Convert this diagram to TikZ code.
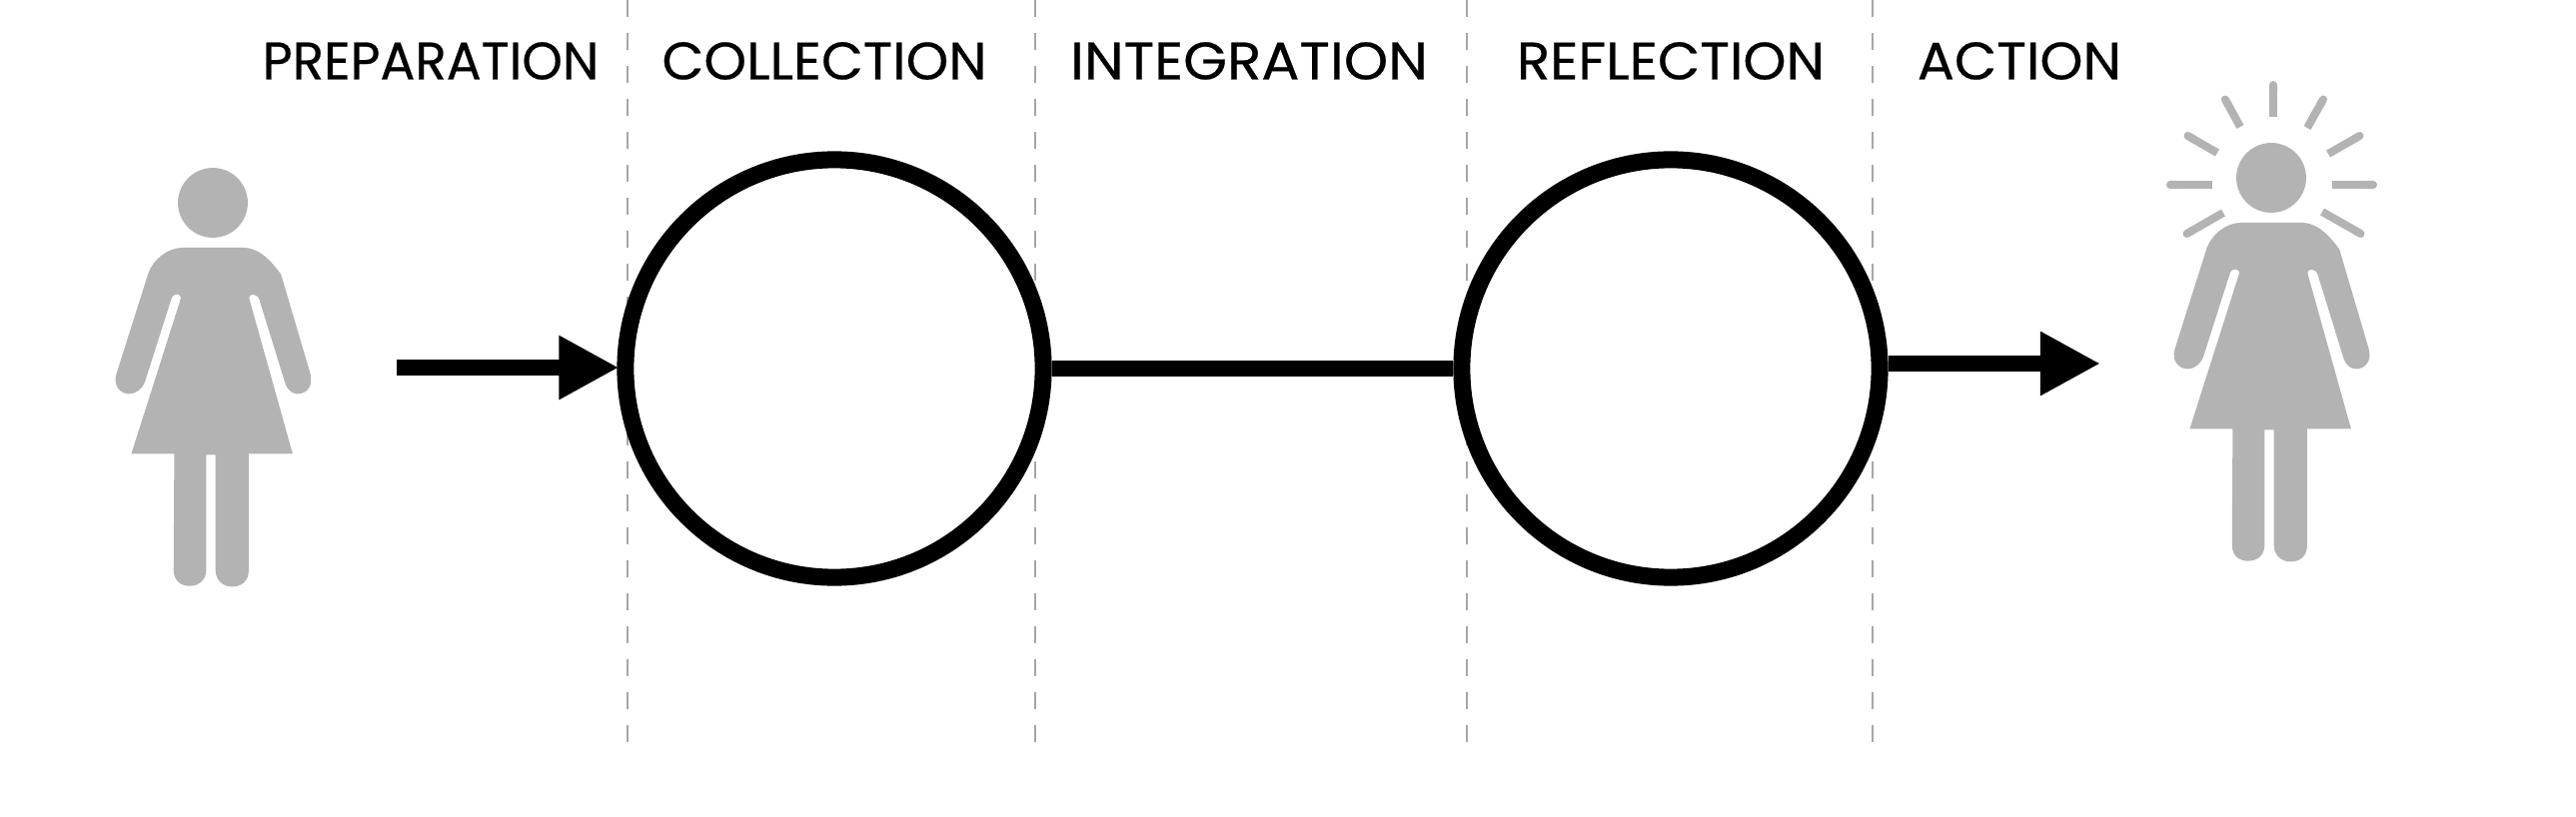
\documentclass[tikz,border=0pt]{standalone}
\usepackage{graphicx}
\usepackage{fontspec}
\setmainfont{Poppins}[FakeBold=0.4]
\usetikzlibrary{arrows.meta}
\definecolor{persongray}{HTML}{B3B3B3}
\definecolor{dashgray}{HTML}{A6A6A6}
\newcommand{\stagetext}[2]{\scalebox{#1}[1]{#2}}
\tikzset{
person/.pic={
\fill[persongray,x=0.00333cm,y=-0.00333cm] (0,0) circle (105);
\fill[persongray,x=0.00333cm,y=-0.00333cm,shift={(-400,-190)}]
(310,325) -- (490,325) .. controls (540,325) and (575,365) .. (605,405)
-- (692,700) .. controls (705,745) and (680,765) .. (655,765)
.. controls (635,765) and (622,750) .. (615,725)
-- (540,482) .. controls (535,462) and (505,460) .. (510,480)
-- (640,945) -- (508,945) -- (508,1295)
.. controls (508,1330) and (485,1345) .. (458,1345)
.. controls (430,1345) and (408,1325) .. (408,1295)
-- (408,948) -- (380,948) -- (380,1295)
.. controls (380,1325) and (358,1343) .. (330,1343)
.. controls (302,1343) and (282,1325) .. (282,1295)
-- (284,945) -- (155,945) -- (303,480)
.. controls (308,462) and (280,458) .. (275,480)
-- (197,725) .. controls (190,748) and (170,765) .. (150,765)
.. controls (120,765) and (100,740) .. (110,705)
-- (205,405) .. controls (220,360) and (265,325) .. (310,325) -- cycle;
}}
\begin{document}
\begin{tikzpicture}[x=0.01cm,y=-0.01cm,
stagelabel/.style={font=\fontsize{15}{15}\selectfont,inner sep=0pt,anchor=center},
stagecircle/.style={circle,draw=black,fill=white,line width=0.17cm,minimum size=4.18cm,inner sep=0pt},
flowline/.style={line width=0.16cm,draw=black},
flowarrow/.style={flowline,-{Triangle[length=0.6cm,width=0.6cm]}},
stagedash/.style={draw=dashgray,line width=0.025cm,dash pattern=on 0.17cm off 0.16cm},
ray/.style={draw=persongray,line width=0.08cm,-{Round Cap[]}}]
\useasboundingbox (0,0) rectangle (2578,818);

% stage borders
\foreach \x in {628,1036,1468,1874}
\draw[stagedash] (\x,0) -- (\x,743);

\node[stagelabel] (preparation) at (431,61) {\stagetext{0.98}{PREPARATION}};
\node[stagelabel] (collection label) at (825,61) {\stagetext{1.03}{COLLECTION}};
\node[stagelabel] (integration) at (1250,61) {\stagetext{1.07}{INTEGRATION}};
\node[stagelabel] (reflection label) at (1672,61) {\stagetext{1.04}{REFLECTION}};
\node[stagelabel] (action) at (2021,61) {\stagetext{1.04}{ACTION}};

\node[stagecircle] (collection) at (835,369) {};
\node[stagecircle] (reflection) at (1672,369) {};

\coordinate (prepstart) at (397,368);
\coordinate (actionend) at (2102,364);
\draw[flowarrow,shorten >=-0.02cm] (prepstart) -- (collection.west |- prepstart);
\draw[flowline] (collection) -- (reflection);
\draw[flowarrow] (reflection.east |- actionend) -- (actionend);

\pic at (213,203) {person};
\pic at (2273,178) {person};

% rays round the second head
\foreach \xa/\ya/\xb/\yb in {2/-61/2/-97,36/-50/54/-82,-31/-51/-48/-82,
57/-24/92/-44,-54/-25/-87/-44,61/7/106/7,-59/7/-105/7,
51/34/93/58,-48/35/-88/58}
\draw[ray] (2273+\xa,178+\ya) -- (2273+\xb,178+\yb);
\end{tikzpicture}
\end{document}
